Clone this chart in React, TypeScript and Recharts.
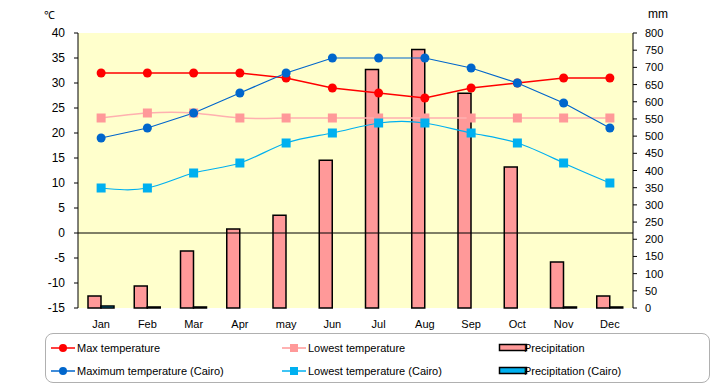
import React from "react";
import {
  ComposedChart,
  Bar,
  Line,
  XAxis,
  YAxis,
  CartesianGrid,
  ReferenceLine,
  Legend,
} from "recharts";

const months = ["Jan", "Feb", "Mar", "Apr", "may", "Jun", "Jul", "Aug", "Sep", "Oct", "Nov", "Dec"];
const maxTemp = [32, 32, 32, 32, 31, 29, 28, 27, 29, 30, 31, 31];
const lowTemp = [23, 24, 24, 23, 23, 23, 23, 23, 23, 23, 23, 23];
const precip = [35, 64, 166, 230, 270, 430, 694, 752, 625, 410, 134, 35];
const cairoMax = [19, 21, 24, 28, 32, 35, 35, 35, 33, 30, 26, 21];
const cairoLow = [9, 9, 12, 14, 18, 20, 22, 22, 20, 18, 14, 10];
const cairoPrecip = [6, 3, 3, 0, 0, 0, 0, 0, 0, 0, 3, 3];

const tempTicks = [-15, -10, -5, 0, 5, 10, 15, 20, 25, 30, 35, 40];
const mmTicks = [0, 50, 100, 150, 200, 250, 300, 350, 400, 450, 500, 550, 600, 650, 700, 750, 800];

const data = months.map((m, i) => ({
  month: m,
  maxTemp: maxTemp[i],
  lowTemp: lowTemp[i],
  precip: precip[i],
  cairoMax: cairoMax[i],
  cairoLow: cairoLow[i],
  cairoPrecip: cairoPrecip[i],
}));

const FONT = "'Liberation Sans', Arial, sans-serif";
const RED = "#FF0000";
const PINK = "#FF9999";
const BLUE = "#0066CC";
const LIGHTBLUE = "#00B0F0";

const squareDot = (color: string) => (props: any) => (
  <rect key={`sq-${props.index}`} x={props.cx - 4.5} y={props.cy - 4.5} width={9} height={9} fill={color} />
);

const RightTick = (props: any) => {
  const { x, y, payload } = props;
  return (
    <g>
      <line x1={x - 12} x2={x - 8} y1={y} y2={y} stroke="#000" />
      <text x={x} y={y} dy={4} textAnchor="start" fontSize={11} fontFamily={FONT} fill="#000">
        {payload.value}
      </text>
    </g>
  );
};

const legendItems = [
  { name: "Max temperature", color: RED, kind: "circle", left: 5, top: 6 },
  { name: "Lowest temperature", color: PINK, kind: "square", left: 236, top: 6 },
  { name: "Precipitation", color: PINK, kind: "bar", left: 452, top: 6 },
  { name: "Maximum temperature (Cairo)", color: BLUE, kind: "circle", left: 5, top: 29 },
  { name: "Lowest temperature (Cairo)", color: LIGHTBLUE, kind: "square", left: 236, top: 29 },
  { name: "Precipitation (Cairo)", color: LIGHTBLUE, kind: "bar", left: 452, top: 29 },
];

const LegendBox = () => (
  <div
    style={{
      position: "relative",
      width: 663,
      height: 48,
      border: "1px solid #b0b0b0",
      borderRadius: 8,
      fontFamily: FONT,
      fontSize: 11,
      color: "#000",
      background: "#fff",
    }}
  >
    {legendItems.map((it) => (
      <div key={it.name} style={{ position: "absolute", left: it.left, top: it.top, display: "flex", alignItems: "center", height: 16 }}>
        <svg width={30} height={14} style={{ display: "block" }}>
          {it.kind === "bar" ? (
            <rect x={1.5} y={3.5} width={27} height={6} fill={it.color} stroke="#000" strokeWidth={1.5} />
          ) : (
            <>
              <line x1={0} x2={24} y1={7} y2={7} stroke={it.color} strokeWidth={1.5} />
              {it.kind === "circle" ? (
                <circle cx={12} cy={7} r={4} fill={it.color} />
              ) : (
                <rect x={8} y={3} width={8} height={8} fill={it.color} />
              )}
            </>
          )}
        </svg>
        <span style={{ marginLeft: -4, whiteSpace: "nowrap" }}>{it.name}</span>
      </div>
    ))}
  </div>
);

export default function App() {
  return (
    <div style={{ position: "absolute", left: 0, top: 0, width: 720, height: 385, background: "#fff", fontFamily: FONT }}>
      <span style={{ position: "absolute", left: 44, top: 7, fontSize: 11 }}>℃</span>
      <span style={{ position: "absolute", left: 648, top: 7, fontSize: 12 }}>mm</span>
      <ComposedChart
        width={720}
        height={385}
        data={data}
        margin={{ top: 33, right: 0, bottom: 55, left: 0 }}
        barGap={0}
      >
        <CartesianGrid fill="#FFFFCC" horizontal={false} vertical={false} stroke="none" />
        <XAxis
          dataKey="month"
          axisLine={false}
          tickLine={false}
          height={22}
          tickMargin={6}
          tick={{ fontSize: 11, fontFamily: FONT, fill: "#000" }}
        />
        <YAxis
          yAxisId="t"
          orientation="left"
          width={78}
          domain={[-15, 40]}
          ticks={tempTicks}
          interval={0}
          allowDataOverflow
          axisLine={{ stroke: "#000" }}
          tickLine={{ stroke: "#000" }}
          tickSize={4}
          tickMargin={9}
          tick={{ fontSize: 12, fontFamily: FONT, fill: "#000" }}
        />
        <YAxis
          yAxisId="mm"
          orientation="right"
          width={87}
          domain={[0, 800]}
          ticks={mmTicks}
          interval={0}
          axisLine={{ stroke: "#000" }}
          tickLine={false}
          tickSize={0}
          tickMargin={12}
          tick={<RightTick />}
        />
        <ReferenceLine yAxisId="t" y={0} stroke="#000" strokeWidth={1} />
        <Bar yAxisId="mm" dataKey="precip" name="Precipitation" fill={PINK} stroke="#000" strokeWidth={1.5} barSize={13} isAnimationActive={false} />
        <Bar yAxisId="mm" dataKey="cairoPrecip" name="Precipitation (Cairo)" fill={LIGHTBLUE} stroke="#000" strokeWidth={1.5} barSize={13} isAnimationActive={false} />
        <Line yAxisId="t" dataKey="maxTemp" name="Max temperature" type="linear" stroke={RED} strokeWidth={1.5} dot={{ r: 4.5, fill: RED, stroke: "none" }} activeDot={false} isAnimationActive={false} />
        <Line yAxisId="t" dataKey="lowTemp" name="Lowest temperature" type="natural" stroke="#FFB0B0" strokeWidth={1.5} dot={squareDot(PINK)} activeDot={false} isAnimationActive={false} />
        <Line yAxisId="t" dataKey="cairoMax" name="Maximum temperature (Cairo)" type="linear" stroke={BLUE} strokeWidth={1.2} dot={{ r: 4.5, fill: BLUE, stroke: "none" }} activeDot={false} isAnimationActive={false} />
        <Line yAxisId="t" dataKey="cairoLow" name="Lowest temperature (Cairo)" type="natural" stroke={LIGHTBLUE} strokeWidth={1.2} dot={squareDot(LIGHTBLUE)} activeDot={false} isAnimationActive={false} />
        <Legend
          layout="vertical"
          align="center"
          verticalAlign="middle"
          wrapperStyle={{ left: 45, top: 333, width: 665, height: 50 }}
          content={() => <LegendBox />}
        />
      </ComposedChart>
    </div>
  );
}
